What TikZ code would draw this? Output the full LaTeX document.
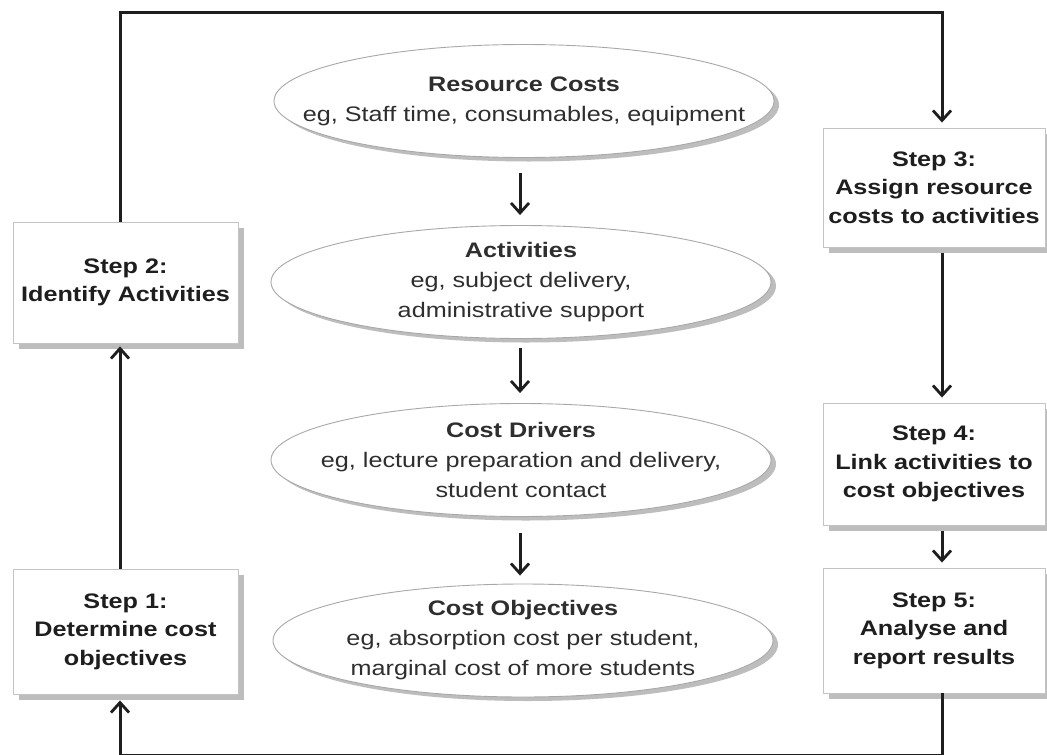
\documentclass[tikz,border=0pt]{standalone}
\usepackage{fontspec}
\setmainfont{Liberation Sans}[FakeStretch=1.2]
\usetikzlibrary{arrows.meta,shadows,shapes.geometric}
\definecolor{ink}{HTML}{1E1E1E}
\definecolor{softink}{HTML}{2E2E2E}
\definecolor{boxline}{HTML}{C4C4C4}
\definecolor{ovalline}{HTML}{A8A8A8}
\definecolor{shade}{HTML}{BDBDBD}
\tikzset{
  stepbox/.style={draw=boxline, line width=0.9pt, fill=white, inner sep=0pt,
    align=center, text=ink, font=\fontsize{21}{28.5}\selectfont\bfseries,
    drop shadow={shadow xshift=6pt, shadow yshift=-6pt, fill=shade, opacity=1}},
  stage/.style={ellipse, draw=ovalline, line width=0.9pt, fill=white, inner sep=0pt,
    minimum width=500pt, minimum height=113pt,
    drop shadow={shadow xshift=5pt, shadow yshift=-4pt, fill=shade, opacity=1}},
  stagetext/.style={inner sep=0pt, align=center, text=softink,
    font=\fontsize{21}{30}\selectfont},
  conn/.style={line width=3pt, draw=ink},
  flowarrow/.style={conn, -{Straight Barb[length=10pt,width=18pt,line width=2.8pt]}}
}
\begin{document}
\begin{tikzpicture}[x=1pt,y=-1pt]
  \useasboundingbox (0,0) rectangle (1047,755);
  \fill[white] (0,0) rectangle (1047,755);

  % step boxes
  \node[stepbox, minimum width=225pt, minimum height=121pt] (step2) at (125.5,282.5)
    {Step 2:\\Identify Activities};
  \node[stepbox, minimum width=225pt, minimum height=125pt] (step1) at (125.5,631.5)
    {Step 1:\\Determine cost\\objectives};
  \node[stepbox, minimum width=222pt, minimum height=119pt] (step3) at (934,187.5)
    {Step 3:\\Assign resource\\costs to activities};
  \node[stepbox, minimum width=222pt, minimum height=122pt] (step4) at (934,464)
    {Step 4:\\Link activities to\\cost objectives};
  \node[stepbox, minimum width=222pt, minimum height=125pt] (step5) at (934,630.5)
    {Step 5:\\Analyse and\\report results};

  % cost flow stages: fixed-size ovals with their captions on top
  \node[stage] (res) at (524,101) {};
  \node[stagetext] (res-t) at (res)
    {\textbf{Resource Costs}\\eg, Staff time, consumables, equipment};
  \node[stage] (act) at (521,282) {};
  \node[stagetext] (act-t) at (act)
    {\textbf{Activities}\\eg, subject delivery,\\administrative support};
  \node[stage] (drv) at (521,460) {};
  \node[stagetext] (drv-t) at (drv)
    {\textbf{Cost Drivers}\\eg, lecture preparation and delivery,\\student contact};
  \node[stage] (obj) at (523,640.5) {};
  \node[stagetext] (obj-t) at (obj)
    {\textbf{Cost Objectives}\\eg, absorption cost per student,\\marginal cost of more students};

  % loop corners
  \coordinate (tl) at (120,12);
  \coordinate (tr) at (942,12);
  \coordinate (bl) at (120,755.8);
  \coordinate (br) at (942,755.8);

  % stage arrows
  \draw[flowarrow, shorten <=15pt, shorten >=10pt] (res.south -| 520,0) -- (act.north -| 520,0);
  \draw[flowarrow, shorten <=9pt, shorten >=10pt] (act.south -| 520,0) -- (drv.north -| 520,0);
  \draw[flowarrow, shorten <=16pt, shorten >=8pt] (drv.south -| 520,0) -- (obj.north -| 520,0);

  % step loop
  \draw[flowarrow, shorten >=3pt] (step1.north -| tl) -- (step2.south -| tl);
  \draw[flowarrow, shorten >=5pt] (step2.north -| tl) -- (tl) -- (tr) -- (step3.north -| tr);
  \draw[flowarrow, shorten <=6pt, shorten >=5pt] (step3.south -| tr) -- (step4.north -| tr);
  \draw[flowarrow, shorten <=6pt, shorten >=5pt] (step4.south -| tr) -- (step5.north -| tr);
  \draw[flowarrow, shorten >=6pt] (step5.south -| br) -- (br) -- (bl) -- (step1.south -| bl);
\end{tikzpicture}
\end{document}
